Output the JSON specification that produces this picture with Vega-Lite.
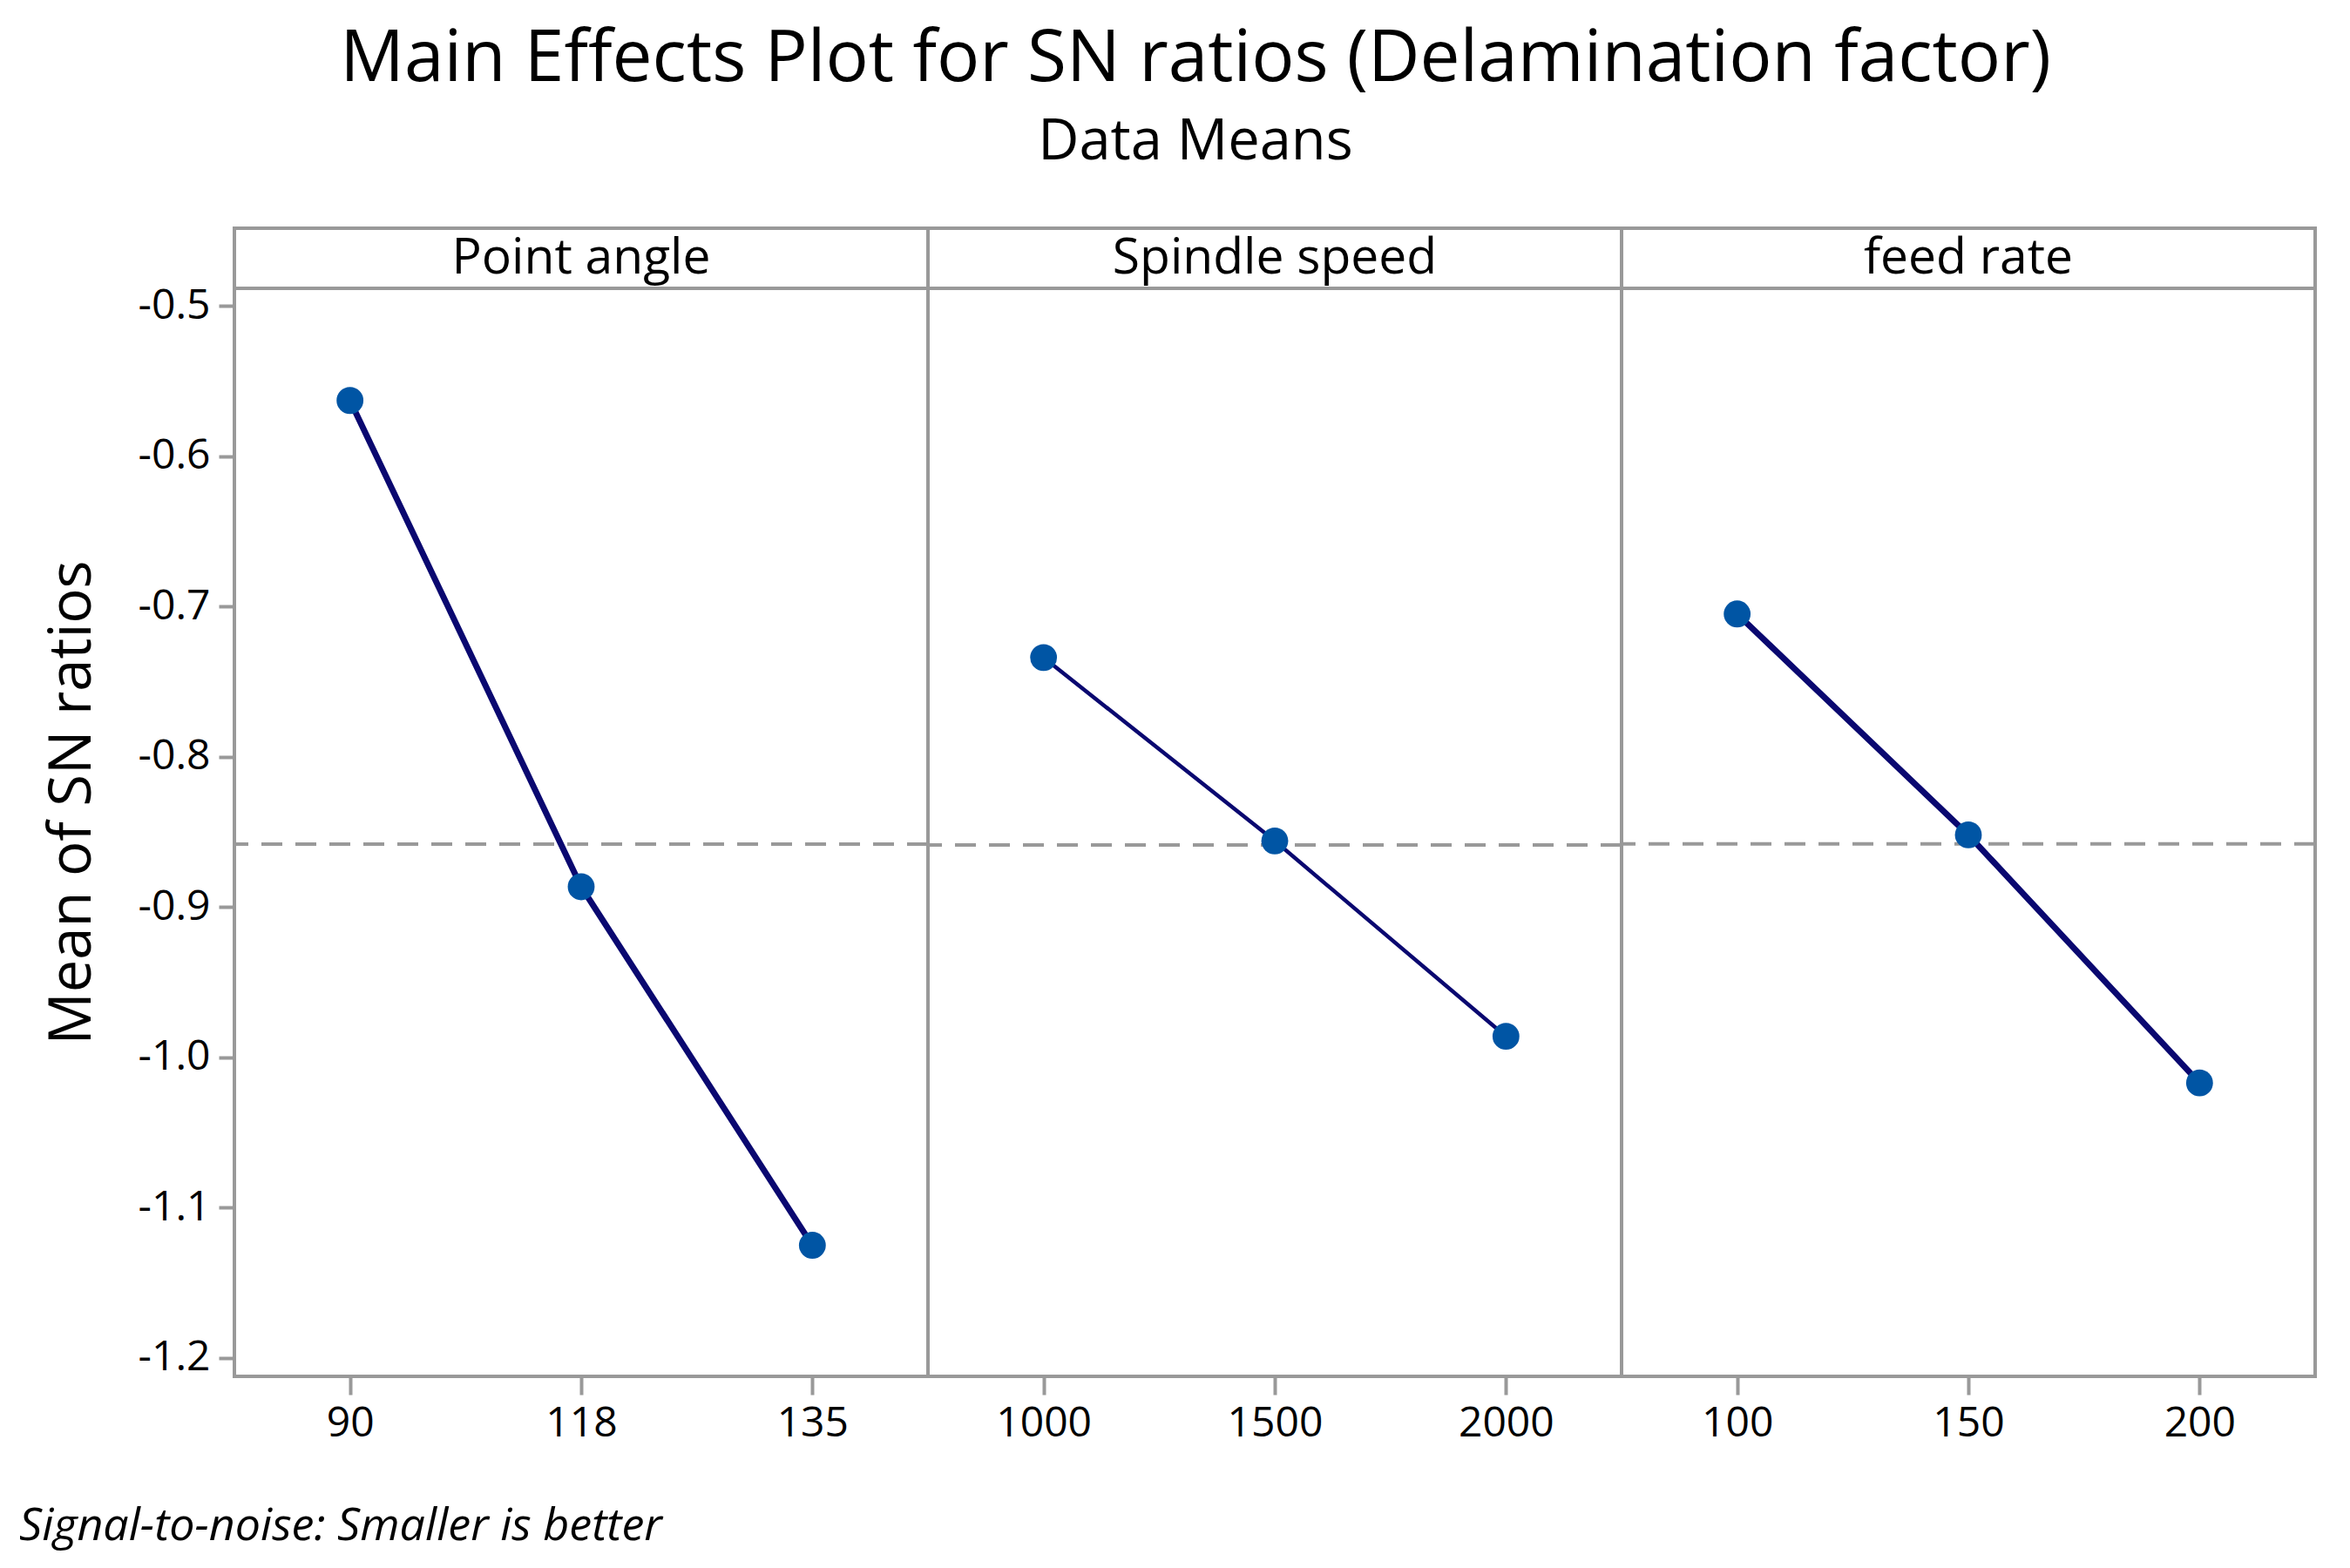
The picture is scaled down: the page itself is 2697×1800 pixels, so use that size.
{
  "$schema": "https://vega.github.io/schema/vega-lite/v6.json",
  "background": "white",
  "padding": {"left": 22, "top": 27, "right": 10, "bottom": 10},
  "title": {
    "text": "Signal-to-noise: Smaller is better",
    "orient": "bottom",
    "anchor": "start",
    "frame": "bounds",
    "font": "Open Sans",
    "fontSize": 52,
    "fontStyle": "italic",
    "fontWeight": "normal",
    "color": "#000000",
    "offset": 67,
    "dx": -27
  },
  "vconcat": [
    {
      "title": {
        "text": "Main Effects Plot for SN ratios (Delamination factor)",
        "subtitle": "Data Means",
        "anchor": "middle",
        "frame": "bounds",
        "font": "Open Sans",
        "fontSize": 82,
        "fontWeight": "normal",
        "color": "#000000",
        "subtitleFont": "Open Sans",
        "subtitleFontSize": 65,
        "subtitleColor": "#000000",
        "subtitlePadding": 22,
        "offset": 63,
        "dx": 17
      },
      "data": {
        "values": [
          {"factor": "Point angle", "level": 90, "sn": -0.563},
          {"factor": "Point angle", "level": 118, "sn": -0.8865},
          {"factor": "Point angle", "level": 135, "sn": -1.125},
          {"factor": "Spindle speed", "level": 1000, "sn": -0.734},
          {"factor": "Spindle speed", "level": 1500, "sn": -0.856},
          {"factor": "Spindle speed", "level": 2000, "sn": -0.986},
          {"factor": "feed rate", "level": 100, "sn": -0.705},
          {"factor": "feed rate", "level": 150, "sn": -0.852},
          {"factor": "feed rate", "level": 200, "sn": -1.017}
        ]
      },
      "facet": {
        "column": {
          "field": "factor",
          "type": "nominal",
          "sort": ["Point angle", "Spindle speed", "feed rate"],
          "header": null
        }
      },
      "spacing": 0,
      "bounds": "flush",
      "resolve": {"scale": {"x": "independent"}},
      "spec": {
        "width": 796,
        "height": 1318,
        "layer": [
          {
            "mark": {"type": "rule", "color": "#999999", "strokeWidth": 4, "strokeDash": [24, 15]},
            "encoding": {
              "y": {"aggregate": "mean", "field": "sn", "type": "quantitative", "title": "Mean of SN ratios", "axis": {"values": [-0.5, -0.6, -0.7, -0.8, -0.9, -1.0, -1.1, -1.2]}}
            }
          },
          {
            "mark": {"type": "rule", "color": "#999999", "strokeWidth": 4},
            "encoding": {
              "y": {"datum": -0.4884, "type": "quantitative", "title": "Mean of SN ratios", "axis": {"values": [-0.5, -0.6, -0.7, -0.8, -0.9, -1.0, -1.1, -1.2]}}
            }
          },
          {
            "transform": [{"aggregate": [{"op": "count", "as": "n"}], "groupby": ["factor"]}],
            "mark": {"type": "text", "font": "Open Sans", "fontSize": 57, "color": "#000000", "baseline": "middle", "align": "center"},
            "encoding": {
              "y": {"datum": -0.4686, "type": "quantitative", "title": "Mean of SN ratios", "axis": {"values": [-0.5, -0.6, -0.7, -0.8, -0.9, -1.0, -1.1, -1.2]}},
              "text": {"field": "factor", "type": "nominal"}
            }
          },
          {
            "mark": {"type": "line", "color": "#0a0870"},
            "encoding": {
              "x": {"field": "level", "type": "ordinal", "title": null, "scale": {"type": "point", "padding": 0.5}},
              "y": {"field": "sn", "type": "quantitative", "title": "Mean of SN ratios", "scale": {"domain": [-1.2122, -0.4484], "nice": false, "zero": false}, "axis": {"values": [-0.5, -0.6, -0.7, -0.8, -0.9, -1.0, -1.1, -1.2]}},
              "strokeWidth": {"condition": {"test": "datum.factor === 'Spindle speed'", "value": 4.5}, "value": 7}
            }
          },
          {
            "mark": {"type": "point", "shape": "circle", "filled": true, "size": 950, "color": "#0055a4", "opacity": 1},
            "encoding": {
              "x": {"field": "level", "type": "ordinal", "title": null},
              "y": {"field": "sn", "type": "quantitative", "title": "Mean of SN ratios", "axis": {"values": [-0.5, -0.6, -0.7, -0.8, -0.9, -1.0, -1.1, -1.2]}}
            }
          }
        ]
      }
    }
  ],
  "config": {
    "view": {"stroke": "#999999", "strokeWidth": 4},
    "axis": {
      "grid": false,
      "domain": false,
      "tickColor": "#999999",
      "tickWidth": 4,
      "labelFont": "Open Sans",
      "labelFontSize": 48,
      "labelColor": "#000000",
      "titleFont": "Open Sans",
      "titleFontSize": 67,
      "titleFontWeight": "normal",
      "titleColor": "#000000"
    },
    "axisX": {"tickSize": 21, "labelPadding": 9, "labelAngle": 0},
    "axisY": {
      "tickSize": 18,
      "labelPadding": 10,
      "titlePadding": 41,
      "labelExpr": "replace(format(datum.value, '.1f'), '\u2212', '-')"
    }
  }
}
